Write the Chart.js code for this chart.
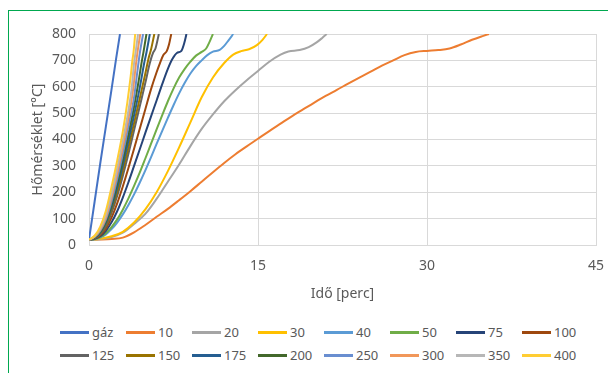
<!DOCTYPE html>
<html lang="hu">
<head>
<meta charset="utf-8">
<title>Hőmérséklet – idő görbék</title>
<script src="https://cdn.jsdelivr.net/npm/chart.js@4/dist/chart.umd.min.js"></script>
<style>
  html, body { margin: 0; padding: 0; background: #fff; }
  #wrap { position: relative; width: 608px; height: 373px; overflow: hidden; font-family: "Noto Sans", sans-serif; }
  #frame { position: absolute; left: 8px; top: 10px; width: 620px; height: 380px;
           border-top: 1px solid #00a84f; border-left: 1px solid #00a84f; }
  #chartBox { position: absolute; left: 0; top: 0; width: 608px; height: 302px; }
  #legend { position: absolute; left: 60px; top: 320px; width: 540px; }
  .row { height: 23px; white-space: nowrap; }
  .item { display: inline-block; width: 66px; height: 18px; line-height: 18px; font-size: 13px; color: #595959; }
  .swatch { display: inline-block; width: 29px; height: 2.5px; vertical-align: middle; margin-right: 3px; position: relative; top: -1px; }
</style>
</head>
<body>
<div id="wrap">
  <div id="frame"></div>
  <div id="chartBox"><canvas id="c" width="608" height="302"></canvas></div>
  <div id="legend"></div>
</div>
<script>
// Series names (fire load / case), as shown in the legend
const seriesNames = ['gáz', '10', '20', '30', '40', '50', '75', '100',
                     '125', '150', '175', '200', '250', '300', '350', '400'];

// Time [perc] / temperature [°C] pairs for each curve
const sGaz = [[0,20],[0.5,165],[1,310],[1.5,450],[2,590],[2.4,705],[2.75,800]];
const s10  = [[0,20],[1,21],[2,23],[3,28],[4,48],[5,76],[6,107],[7,137],[8,170],[9,204],[10,240],
              [11,276],[12,311],[13,344],[14,374],[15,403],[16,432],[17,460],[18,488],[19,514],
              [20,540],[21,565],[22,588],[23,612],[24,635],[25,657],[26,680],[27,700],[28,720],
              [29,732],[30,736],[31,739],[32,745],[33,760],[34,778],[35,793],[35.5,800]];
const s20  = [[0,20],[1,22],[2,30],[3,47],[4,80],[5,118],[6,175],[7,240],[8,305],[9,375],[10,440],
              [11,495],[12,545],[13,587],[14,625],[15,660],[16,695],[17,722],[17.7,734],[18.7,739],
              [19.5,750],[20.2,768],[20.7,785],[21.1,800]];
const s30  = [[0,20],[1,24],[2,33],[3,50],[4,85],[5,135],[6,200],[7,280],[8,370],[9,465],[10,560],
              [11,635],[12,690],[12.8,722],[13.5,735],[14.2,742],[14.9,758],[15.4,778],[15.8,800]];
const s40  = [[0,20],[0.5,22],[1,28],[1.5,40],[2,60],[2.5,85],[3,116],[3.5,152],[4,192],[4.5,236],
              [5,283],[5.5,332],[6,383],[6.5,433],[7,482],[7.5,530],[8,575],[8.5,615],[9,650],
              [9.5,678],[10,700],[10.5,720],[11,733],[11.6,740],[12,755],[12.4,777],[12.8,800]];
const s50  = [[0,20],[0.5,23],[1,30],[1.5,45],[2,68],[2.5,97],[3,134],[3.5,177],[4,224],[4.5,274],
              [5,328],[5.5,383],[6,438],[6.5,492],[7,545],[7.5,593],[8,635],[8.5,668],[9,695],
              [9.5,718],[10,732],[10.4,745],[10.7,770],[11,800]];
const s75  = [[0,20],[0.5,24],[1,33],[1.5,54],[2,86],[2.5,128],[3,180],[3.5,238],[4,300],[4.5,362],
              [5,425],[5.5,487],[6,548],[6.5,610],[7,668],[7.4,705],[7.8,728],[8.2,736],[8.45,765],[8.65,800]];
const s100 = [[0,20],[0.5,25],[1,37],[1.5,63],[2,104],[2.5,158],[3,222],[3.5,292],[4,365],[4.5,440],
              [5,515],[5.5,590],[6,655],[6.3,690],[6.6,720],[6.9,735],[7.1,760],[7.3,800]];
const s125 = [[0,20],[0.5,26],[1,41],[1.5,72],[2,122],[2.5,186],[3,262],[3.5,346],[4,435],[4.5,525],
              [5,615],[5.4,690],[5.7,730],[5.9,745],[6.2,800]];
const s150 = [[0,20],[0.5,27],[1,44],[1.5,78],[2,132],[2.5,200],[3,282],[3.5,370],[4,462],[4.5,555],
              [5,650],[5.3,710],[5.5,740],[5.8,800]];
const s175 = [[0,20],[0.5,28],[1,47],[1.5,84],[2,142],[2.5,216],[3,302],[3.5,395],[4,492],[4.5,595],
              [4.9,690],[5.1,730],[5.4,800]];
const s200 = [[0,20],[0.5,29],[1,50],[1.5,90],[2,152],[2.5,232],[3,322],[3.5,420],[4,525],[4.4,620],
              [4.7,700],[4.85,735],[5.1,800]];
const s250 = [[0,20],[0.5,30],[1,54],[1.5,97],[2,165],[2.5,250],[3,345],[3.5,450],[4,560],[4.3,660],
              [4.5,725],[4.8,800]];
const s300 = [[0,20],[0.5,32],[1,58],[1.5,105],[2,180],[2.5,270],[3,370],[3.5,480],[3.9,585],[4.15,680],
              [4.3,730],[4.55,800]];
const s350 = [[0,20],[0.5,33],[1,62],[1.5,115],[2,195],[2.5,290],[3,395],[3.5,510],[3.8,600],[4.0,690],
              [4.15,735],[4.35,800]];
const s400 = [[0,20],[0.5,35],[1,70],[1.5,130],[2,220],[2.5,320],[3,430],[3.4,540],[3.7,640],[3.85,700],
              [3.95,730],[4.1,800]];

const seriesData = [sGaz, s10, s20, s30, s40, s50, s75, s100,
                    s125, s150, s175, s200, s250, s300, s350, s400];

// Axis tick values
const xTicks = [0, 15, 30, 45];
const yTicks = [0, 100, 200, 300, 400, 500, 600, 700, 800];

// Line colours, one per series
const seriesColors = ['#4472C4', '#ED7D31', '#A5A5A5', '#FFC000', '#5B9BD5', '#70AD47', '#264478', '#9E480E',
                      '#636363', '#997300', '#255E91', '#43682B', '#698ED0', '#F1975A', '#B7B7B7', '#FFCD33'];

const FONT = '"Noto Sans", sans-serif';
const TEXT = '#595959';
const GRID = '#d9d9d9';

const datasets = seriesNames.map((name, i) => ({
  label: name,
  data: seriesData[i].map(([x, y]) => ({ x, y })),
  borderColor: seriesColors[i],
  backgroundColor: seriesColors[i],
  borderWidth: 2,
  pointRadius: 0,
  fill: false,
  cubicInterpolationMode: 'monotone',
  order: seriesNames.length - 1 - i
}));

new Chart(document.getElementById('c'), {
  type: 'line',
  data: { datasets },
  options: {
    responsive: false,
    animation: false,
    clip: 0,
    layout: { padding: { top: 34, right: 12, left: 0, bottom: 0 } },
    plugins: { legend: { display: false }, tooltip: { enabled: false } },
    scales: {
      x: {
        type: 'linear',
        min: xTicks[0],
        max: xTicks[xTicks.length - 1],
        afterBuildTicks: (s) => { s.ticks = xTicks.map(v => ({ value: v })); },
        afterFit: (s) => { s.height = 57; },
        // invisible tick marks keep the labels clear of the axis without widening the side padding
        grid: { color: GRID, lineWidth: 1, drawTicks: true, tickLength: 13, tickColor: 'rgba(0,0,0,0)' },
        border: { color: GRID, width: 1 },
        ticks: { color: TEXT, font: { family: FONT, size: 14 }, padding: 0, maxRotation: 0 },
        title: { display: true, text: 'Idő [perc]', color: TEXT, font: { family: FONT, size: 14 },
                 padding: { top: 0, bottom: 0 } }
      },
      y: {
        type: 'linear',
        min: yTicks[0],
        max: yTicks[yTicks.length - 1],
        afterBuildTicks: (s) => { s.ticks = yTicks.map(v => ({ value: v })); },
        afterFit: (s) => { s.width = 89; },
        grid: { color: GRID, lineWidth: 1, drawTicks: false },
        border: { color: GRID, width: 1 },
        ticks: { color: TEXT, font: { family: FONT, size: 14 }, padding: 13 },
        title: { display: true, text: 'Hőmérséklet [°C]', color: TEXT, font: { family: FONT, size: 14 },
                 padding: { top: 30, bottom: 0 } }
      }
    }
  }
});

// Legend: two rows of eight equally spaced entries
const legend = document.getElementById('legend');
for (let r = 0; r < 2; r++) {
  const row = document.createElement('div');
  row.className = 'row';
  for (let c = 0; c < 8; c++) {
    const i = r * 8 + c;
    const item = document.createElement('span');
    item.className = 'item';
    const sw = document.createElement('span');
    sw.className = 'swatch';
    sw.style.background = seriesColors[i];
    item.appendChild(sw);
    item.appendChild(document.createTextNode(seriesNames[i]));
    row.appendChild(item);
  }
  legend.appendChild(row);
}
</script>
</body>
</html>
